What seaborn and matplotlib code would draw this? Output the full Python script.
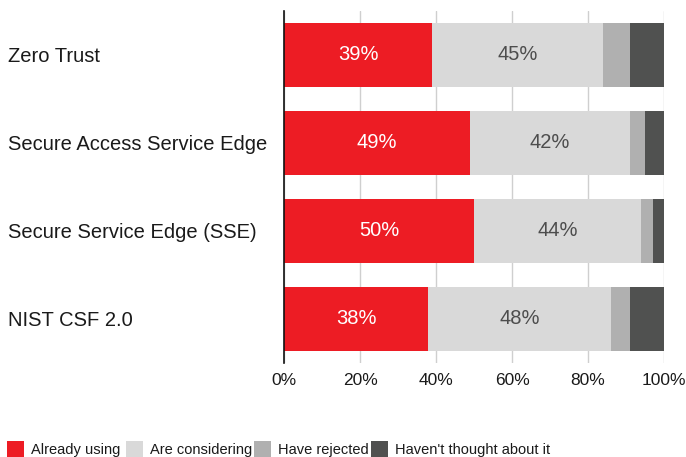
import matplotlib
matplotlib.use("Agg")
import matplotlib.pyplot as plt
from matplotlib.patches import Patch
import numpy as np
import pandas as pd
import seaborn as sns

# Survey data: share of respondents per framework
categories = ["Zero Trust", "Secure Access Service Edge",
              "Secure Service Edge (SSE)", "NIST CSF 2.0"]
already_using = [39, 49, 50, 38]
are_considering = [45, 42, 44, 48]
have_rejected = [7, 4, 3, 5]
havent_thought = [9, 5, 3, 9]

series_names = ["Already using", "Are considering", "Have rejected",
                "Haven't thought about it"]
series_values = [already_using, are_considering, have_rejected, havent_thought]
series_colors = ["#ED1C24", "#D9D9D9", "#B0B0B0", "#505150"]
xtick_values = [0, 20, 40, 60, 80, 100]
xtick_labels = ["0%", "20%", "40%", "60%", "80%", "100%"]

sns.set_theme(style="white")
plt.rcParams["font.family"] = ["Liberation Sans", "DejaVu Sans"]

W, H = 686, 457
fig = plt.figure(figsize=(W / 100, H / 100), dpi=100)
ax = fig.add_axes([284 / W, 1 - 363 / H, 380 / W, 352 / H])

# Stacked horizontal bars: draw cumulative totals, widest first
vals = np.array(series_values, dtype=float)
cum = np.cumsum(vals, axis=0)
df = pd.DataFrame({"category": categories})
for i in range(len(series_names) - 1, -1, -1):
    df["total"] = cum[i]
    sns.barplot(data=df, x="total", y="category", orient="h",
                color=series_colors[i], saturation=1, width=0.733,
                ax=ax, zorder=2, linewidth=0)

# Value labels on the two largest segments
left = cum - vals
for row in range(len(categories)):
    ax.text(left[0][row] + vals[0][row] / 2, row, f"{already_using[row]}%",
            ha="center", va="center", color="white", fontsize=14.5, zorder=3)
    ax.text(left[1][row] + vals[1][row] / 2, row, f"{are_considering[row]}%",
            ha="center", va="center", color="#4D4D4D", fontsize=14.5, zorder=3)

ax.set_xlim(0, 100)
ax.set_ylim(3.5, -0.5)
ax.set_xticks(xtick_values)
ax.set_xticklabels(xtick_labels)
ax.set_xlabel("")
ax.set_ylabel("")
ax.grid(axis="x", color="#CFCFCF", linewidth=1.0, zorder=0)
ax.grid(axis="y", visible=False)
ax.set_axisbelow(True)
for side in ["top", "right", "bottom"]:
    ax.spines[side].set_visible(False)
ax.spines["left"].set_color("#111111")
ax.spines["left"].set_linewidth(1.2)
ax.spines["left"].set_zorder(4)

ax.tick_params(axis="x", length=0, pad=7.5, labelsize=12.5, labelcolor="#1A1A1A")
ax.tick_params(axis="y", length=0, pad=276 * 0.72, labelsize=14.5,
               labelcolor="#1A1A1A")
for lbl in ax.get_yticklabels():
    lbl.set_ha("left")

# Legend row along the bottom, one entry per series
legend_x = [7, 126, 254, 371]
for name, color, x in zip(series_names, series_colors, legend_x):
    fig.legend([Patch(facecolor=color, edgecolor="none")], [name],
               loc="lower left", bbox_to_anchor=(x / W, 0.0), frameon=False,
               borderpad=0, borderaxespad=0, fontsize=10.5,
               handlelength=1.17, handleheight=1.3, handletextpad=0.45,
               labelcolor="#1A1A1A")

fig.savefig("out.png", dpi=100)
